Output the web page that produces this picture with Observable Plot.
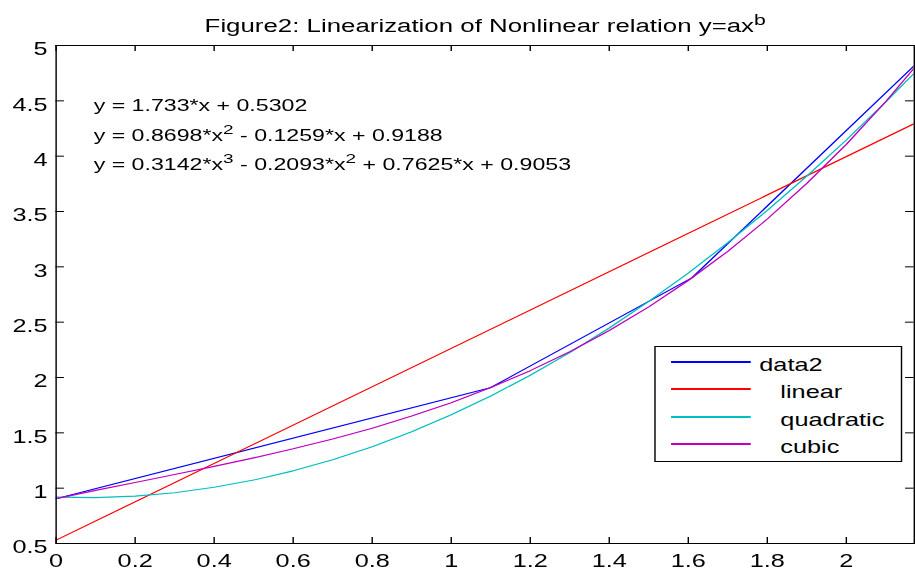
<!DOCTYPE html>
<html>
<head>
<meta charset="utf-8">
<script src="https://cdn.jsdelivr.net/npm/d3@7"></script>
<script src="https://cdn.jsdelivr.net/npm/@observablehq/plot@0.6"></script>
<style>
  html, body { margin: 0; padding: 0; background: #fff; overflow: hidden; }
  #chart { width: 644px; transform-origin: 0 0; }
  #chart svg text { white-space: pre; }
</style>
</head>
<body>
<div id="chart"></div>
<script>
// Measured samples (x = ln t, y = ln v)
const dataX = [0, 1.099, 1.609, 2.197];
const dataY = [0.905, 1.907, 2.900, 4.903];

// Fitted curves, tabulated on a common grid
const fitX = [0, 0.1, 0.2, 0.3, 0.4, 0.5, 0.6, 0.7, 0.8, 0.9, 1.0, 1.1,
              1.2, 1.3, 1.4, 1.5, 1.6, 1.7, 1.8, 1.9, 2.0, 2.1, 2.2];
const quadraticY = [0.9188, 0.9149, 0.9284, 0.9593, 1.0076, 1.0733, 1.1564, 1.2569,
                    1.3748, 1.5100, 1.6627, 1.8328, 2.0202, 2.2251, 2.4473, 2.6870,
                    2.9440, 3.2185, 3.5103, 3.8196, 4.1462, 4.4902, 4.8517];
const cubicY = [0.9053, 0.9798, 1.0519, 1.1237, 1.1969, 1.2735, 1.3553, 1.4443,
                1.5422, 1.6511, 1.7727, 1.9090, 2.0618, 2.2331, 2.4247, 2.6386,
                2.8765, 3.1403, 3.4321, 3.7536, 4.1067, 4.4933, 4.9155];
const linearX = [0, 2.2];
const linearY = [0.5302, 4.3428];

const xTicks = [0, 0.2, 0.4, 0.6, 0.8, 1, 1.2, 1.4, 1.6, 1.8, 2];
const yTicks = [0.5, 1, 1.5, 2, 2.5, 3, 3.5, 4, 4.5, 5];

const seriesNames = ["data2", "   linear", "   quadratic", "   cubic"];
const seriesColors = ["#0000ff", "#ff0000", "#00bfbf", "#bf00bf"];

const equations = [
  "y = 1.733*x + 0.5302",
  "y = 0.8698*x^2 - 0.1259*x + 0.9188",
  "y = 0.3142*x^3 - 0.2093*x^2 + 0.7625*x + 0.9053"
];
const titleText = "Figure2: Linearization of Nonlinear relation y=ax^b";

// ---- layout ----
const W = 644, H = 570;
const M = {top: 45, right: 1, bottom: 27, left: 39};
const frameW = W - M.left - M.right, frameH = H - M.top - M.bottom;
const tickLen = 6;
const font = "'Liberation Sans', Arial, Helvetica, sans-serif";
const fontSize = 17.8;
const titleSize = 18.2;
const eqSize = 16.3;

const rows = (xs, ys) => xs.map((x, i) => ({x, y: ys[i]}));
const series = [
  rows(dataX, dataY),
  rows(linearX, linearY),
  rows(fitX, quadraticY),
  rows(fitX, cubicY)
];

const svg = Plot.plot({
  width: W,
  height: H,
  marginTop: M.top,
  marginRight: M.right,
  marginBottom: M.bottom,
  marginLeft: M.left,
  style: {fontFamily: font, fontSize: fontSize + "px", color: "black", background: "white", overflow: "visible"},
  x: {domain: [0, 2.172], label: null},
  y: {domain: [0.5, 5], label: null},
  marks: [
    ...series.map((s, i) => Plot.line(s, {x: "x", y: "y", stroke: seriesColors[i], strokeWidth: 1.1, clip: true})),
    Plot.frame({stroke: "black", strokeWidth: 1}),
    // inward ticks on all four sides
    Plot.tickX(xTicks, {x: d => d, insetTop: frameH - tickLen, stroke: "black"}),
    Plot.tickX(xTicks, {x: d => d, insetBottom: frameH - tickLen, stroke: "black"}),
    Plot.tickY(yTicks, {y: d => d, insetRight: frameW - tickLen, stroke: "black"}),
    Plot.tickY(yTicks, {y: d => d, insetLeft: frameW - tickLen, stroke: "black"}),
    Plot.axisX(xTicks, {anchor: "bottom", tickSize: 0, tickPadding: 11, tickFormat: d => String(d), label: null}),
    Plot.axisY(yTicks, {anchor: "left", tickSize: 0, tickPadding: 6, dy: 4, tickFormat: d => String(d), label: null}),
    // fit equations
    Plot.text(equations, {
      x: () => 0.095,
      y: (d, i) => 4.405 - i * 0.2666,
      text: d => d,
      textAnchor: "start",
      lineAnchor: "bottom",
      fontSize: eqSize
    }),
    // title
    Plot.text([titleText], {
      frameAnchor: "top",
      dy: -13.3,
      lineAnchor: "bottom",
      text: d => d,
      fontSize: titleSize
    })
  ]
});

// Render "^c" as a raised, smaller character
d3.select(svg).selectAll("text").each(function () {
  const t = this.textContent;
  if (!t.includes("^")) return;
  const sel = d3.select(this);
  sel.text(null);
  const parts = t.split(/\^(\w)/);
  let raised = false;
  parts.forEach((p, i) => {
    if (i % 2 === 1) {
      sel.append("tspan").attr("dy", -7).attr("font-size", "0.82em").text(p);
      raised = true;
    } else if (p) {
      const ts = sel.append("tspan").text(p);
      if (raised) { ts.attr("dy", 7); raised = false; }
    }
  });
});

// Legend box, anchored to the plot frame's right side
const frameRight = W - M.right;
const lg = {right: frameRight - 8.5, width: 173.5, top: M.top + 301.5, rowH: 27.3,
            firstRow: 15.6, padBottom: 17.4, lineFrom: 11.3, lineTo: 67.4, textAt: 73.4};
const lgLeft = lg.right - lg.width;
const lgHeight = lg.firstRow + (seriesNames.length - 1) * lg.rowH + lg.padBottom;
const legend = d3.select(svg).append("g")
  .attr("font-family", font)
  .attr("font-size", fontSize)
  .attr("text-anchor", "start");
legend.append("rect")
  .attr("x", lgLeft).attr("y", lg.top)
  .attr("width", lg.width).attr("height", Math.round(lgHeight))
  .attr("fill", "white").attr("stroke", "black").attr("stroke-width", 1);
seriesNames.forEach((name, i) => {
  const cy = Math.round(lg.top + lg.firstRow + i * lg.rowH);
  legend.append("path")
    .attr("d", `M${lgLeft + lg.lineFrom},${cy}H${lgLeft + lg.lineTo}`)
    .attr("fill", "none")
    .attr("stroke", seriesColors[i])
    .attr("stroke-width", 2);
  legend.append("text")
    .attr("x", lgLeft + lg.textAt).attr("y", cy + 9.5)
    .attr("text-anchor", "start")
    .attr("fill", "black")
    .style("white-space", "pre")
    .text(name);
});

const host = document.getElementById("chart");
host.style.transform = `scaleX(${915 / W})`;
host.appendChild(svg);
</script>
</body>
</html>
